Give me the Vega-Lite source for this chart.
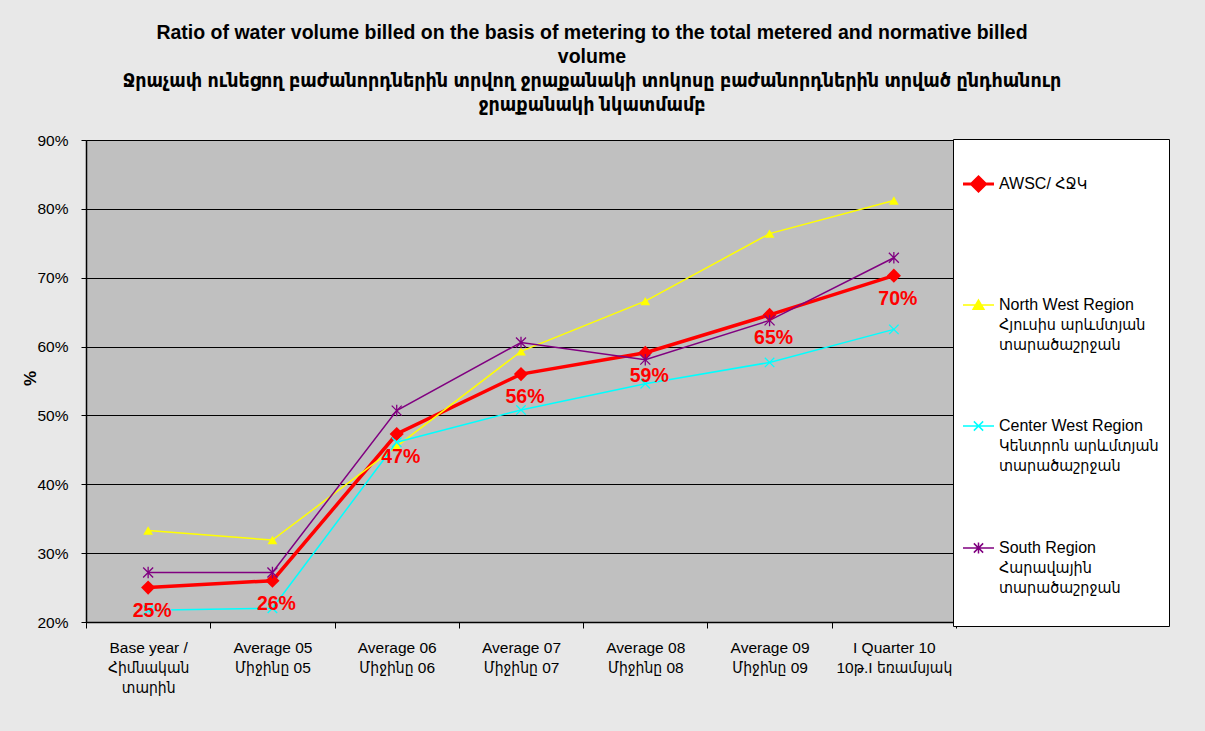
{
  "$schema": "https://vega.github.io/schema/vega-lite/v6.json",
  "width": 870,
  "height": 482,
  "autosize": {"type": "none"},
  "padding": {"left": 86, "top": 140, "right": 249, "bottom": 109},
  "background": "#e8e8e8",
  "title": {
    "text": [
      "Ratio of water volume billed on the basis of metering to the total metered and normative billed",
      "volume",
      "Ջրաչափ ունեցող բաժանորդներին տրվող ջրաքանակի տոկոսը բաժանորդներին տրված ընդհանուր",
      "ջրաքանակի նկատմամբ"
    ],
    "font": "Liberation Sans, DejaVu Sans Condensed, DejaVu Sans, sans-serif",
    "fontSize": 19.5,
    "fontWeight": "bold",
    "color": "#000000",
    "lineHeight": 24,
    "anchor": "middle",
    "dx": 71,
    "offset": 18
  },
  "config": {
    "view": {"fill": "#c0c0c0", "stroke": "#808080", "strokeWidth": 1},
    "axis": {
      "labelFont": "Liberation Sans, DejaVu Sans Condensed, DejaVu Sans, sans-serif",
      "labelFontSize": 15.5,
      "labelColor": "#000000",
      "domainColor": "#000000",
      "tickColor": "#000000",
      "titleFont": "Liberation Sans, DejaVu Sans, sans-serif",
      "titleColor": "#000000"
    },
    "legend": {
      "orient": "none",
      "legendX": 867,
      "legendY": -1,
      "fillColor": "#ffffff",
      "strokeColor": "#000000",
      "padding": 10,
      "rowPadding": 65,
      "symbolSize": 961,
      "labelOffset": 5,
      "labelFont": "Liberation Sans, DejaVu Sans Condensed, DejaVu Sans, sans-serif",
      "labelFontSize": 16,
      "labelColor": "#000000",
      "labelLimit": 400,
      "labelBaseline": "top",
      "titleFontSize": 8,
      "titlePadding": 19
    }
  },
  "data": {
    "values": [
      {"cat": "Base year /\nՀիմնական\nտարին", "series": "AWSC", "value": 0.250},
      {"cat": "Average 05\nՄիջինը 05", "series": "AWSC", "value": 0.260},
      {"cat": "Average 06\nՄիջինը 06", "series": "AWSC", "value": 0.473},
      {"cat": "Average 07\nՄիջինը 07", "series": "AWSC", "value": 0.560},
      {"cat": "Average 08\nՄիջինը 08", "series": "AWSC", "value": 0.591},
      {"cat": "Average 09\nՄիջինը 09", "series": "AWSC", "value": 0.646},
      {"cat": "I Quarter 10\n10թ.I եռամսյակ", "series": "AWSC", "value": 0.703},
      {"cat": "Base year /\nՀիմնական\nտարին", "series": "NW", "value": 0.333},
      {"cat": "Average 05\nՄիջինը 05", "series": "NW", "value": 0.319},
      {"cat": "Average 06\nՄիջինը 06", "series": "NW", "value": 0.455},
      {"cat": "Average 07\nՄիջինը 07", "series": "NW", "value": 0.593},
      {"cat": "Average 08\nՄիջինը 08", "series": "NW", "value": 0.666},
      {"cat": "Average 09\nՄիջինը 09", "series": "NW", "value": 0.764},
      {"cat": "I Quarter 10\n10թ.I եռամսյակ", "series": "NW", "value": 0.812},
      {"cat": "Base year /\nՀիմնական\nտարին", "series": "CW", "value": 0.217},
      {"cat": "Average 05\nՄիջինը 05", "series": "CW", "value": 0.220},
      {"cat": "Average 06\nՄիջինը 06", "series": "CW", "value": 0.461},
      {"cat": "Average 07\nՄիջինը 07", "series": "CW", "value": 0.508},
      {"cat": "Average 08\nՄիջինը 08", "series": "CW", "value": 0.546},
      {"cat": "Average 09\nՄիջինը 09", "series": "CW", "value": 0.577},
      {"cat": "I Quarter 10\n10թ.I եռամսյակ", "series": "CW", "value": 0.625},
      {"cat": "Base year /\nՀիմնական\nտարին", "series": "S", "value": 0.272},
      {"cat": "Average 05\nՄիջինը 05", "series": "S", "value": 0.272},
      {"cat": "Average 06\nՄիջինը 06", "series": "S", "value": 0.507},
      {"cat": "Average 07\nՄիջինը 07", "series": "S", "value": 0.606},
      {"cat": "Average 08\nՄիջինը 08", "series": "S", "value": 0.581},
      {"cat": "Average 09\nՄիջինը 09", "series": "S", "value": 0.638},
      {"cat": "I Quarter 10\n10թ.I եռամսյակ", "series": "S", "value": 0.729}
    ]
  },
  "encoding": {
    "x": {
      "field": "cat",
      "type": "nominal",
      "sort": null,
      "scale": {"type": "band", "paddingInner": 0, "paddingOuter": 0},
      "axis": {
        "title": null,
        "labelAngle": 0,
        "labelExpr": "split(datum.label, '\\n')",
        "labelBaseline": "top",
        "labelLineHeight": 20,
        "labelPadding": 12,
        "tickBand": "extent",
        "tickSize": 6,
        "domainWidth": 1.5,
        "tickWidth": 1,
        "labelLimit": 200
      }
    },
    "y": {
      "field": "value",
      "type": "quantitative",
      "scale": {"domain": [0.2, 0.9], "nice": false, "zero": false},
      "axis": {
        "title": "%",
        "titleFontSize": 17,
        "titleFontWeight": "bold",
        "titleAngle": -90,
        "titleX": -56,
        "titleY": 238,
        "titleAlign": "center",
        "titleBaseline": "middle",
        "values": [0.2, 0.3, 0.4, 0.5, 0.6, 0.7, 0.8, 0.9],
        "format": ".0%",
        "grid": true,
        "gridColor": "#000000",
        "gridWidth": 1.2,
        "gridOpacity": 1,
        "tickSize": 5,
        "labelPadding": 13,
        "domainWidth": 1.5
      }
    }
  },
  "layer": [
    {
      "mark": {"type": "line"},
      "encoding": {
        "color": {
          "field": "series",
          "type": "nominal",
          "scale": {"domain": ["AWSC", "NW", "CW", "S"], "range": ["#ff0000", "#ffff00", "#00ffff", "#800080"]},
          "legend": {
            "title": " ",
            "labelExpr": "datum.value == 'AWSC' ? ['AWSC/ ՀՋԿ', ' ', ' '] : datum.value == 'NW' ? ['North West Region', 'Հյուսիս արևմտյան', 'տարածաշրջան'] : datum.value == 'CW' ? ['Center West Region', 'Կենտրոն արևմտյան', 'տարածաշրջան'] : ['South Region', 'Հարավային', 'տարածաշրջան', ' ']",
            "encode": {
              "labels": {
                "update": {
                  "x": {"value": 36},
                  "dy": {"value": -8},
                  "lineHeight": {"value": 20}
                }
              },
              "symbols": {
                "update": {
                  "x": {"value": 15.5},
                  "shape": {"signal": "datum.value == 'AWSC' ? 'M-1,0L1,0M0,-0.45L0.45,0L0,0.45L-0.45,0Z' : datum.value == 'NW' ? 'M-1,0L1,0M0,-0.32L0.35,0.28L-0.35,0.28Z' : datum.value == 'CW' ? 'M-1,0L1,0M-0.3,-0.3L0.3,0.3M-0.3,0.3L0.3,-0.3' : 'M-1,0L1,0M-0.3,-0.3L0.3,0.3M-0.3,0.3L0.3,-0.3M0,-0.35L0,0.35'"},
                  "fill": {"signal": "datum.value == 'AWSC' ? '#ff0000' : datum.value == 'NW' ? '#ffff00' : datum.value == 'CW' ? '#00ffff' : '#800080'"},
                  "stroke": {"signal": "datum.value == 'AWSC' ? '#ff0000' : datum.value == 'NW' ? '#ffff00' : datum.value == 'CW' ? '#00ffff' : '#800080'"},
                  "strokeWidth": {"signal": "datum.value == 'AWSC' ? 3 : 1.5"},
                  "opacity": {"value": 1}
                }
              }
            }
          }
        },
        "strokeWidth": {
          "field": "series",
          "type": "nominal",
          "scale": {"type": "ordinal", "domain": ["S", "CW", "NW", "AWSC"], "range": [1.5, 1.5, 1.5, 3.5]},
          "legend": null
        }
      }
    },
    {
      "transform": [{"filter": "datum.series == 'AWSC' || datum.series == 'NW'"}],
      "mark": {"type": "point", "filled": true, "opacity": 1},
      "encoding": {
        "color": {"field": "series", "type": "nominal"},
        "shape": {
          "field": "series",
          "type": "nominal",
          "scale": {"domain": ["S", "CW", "NW", "AWSC"], "range": ["M-1,-1L1,1M-1,1L1,-1M0,-1.15L0,1.15", "M-1,-1L1,1M-1,1L1,-1", "triangle-up", "diamond"]},
          "legend": null
        },
        "size": {
          "field": "series",
          "type": "nominal",
          "scale": {"type": "ordinal", "domain": ["S", "CW", "NW", "AWSC"], "range": [100, 90, 95, 200]},
          "legend": null
        }
      }
    },
    {
      "transform": [{"filter": "datum.series == 'CW' || datum.series == 'S'"}],
      "mark": {"type": "point", "filled": false, "opacity": 1, "strokeWidth": 1.3},
      "encoding": {
        "color": {"field": "series", "type": "nominal"},
        "shape": {
          "field": "series",
          "type": "nominal",
          "scale": {"domain": ["S", "CW", "NW", "AWSC"], "range": ["M-1,-1L1,1M-1,1L1,-1M0,-1.15L0,1.15", "M-1,-1L1,1M-1,1L1,-1", "triangle-up", "diamond"]},
          "legend": null
        },
        "size": {
          "field": "series",
          "type": "nominal",
          "scale": {"type": "ordinal", "domain": ["S", "CW", "NW", "AWSC"], "range": [100, 90, 95, 200]},
          "legend": null
        }
      }
    },
    {
      "transform": [{"filter": "datum.series == 'AWSC'"}],
      "mark": {
        "type": "text",
        "color": "#ff0000",
        "font": "Liberation Sans, DejaVu Sans, sans-serif",
        "fontSize": 19.5,
        "fontWeight": "bold",
        "dx": 4,
        "dy": 23
      },
      "encoding": {
        "text": {"field": "value", "type": "quantitative", "format": ".0%"}
      }
    }
  ]
}
